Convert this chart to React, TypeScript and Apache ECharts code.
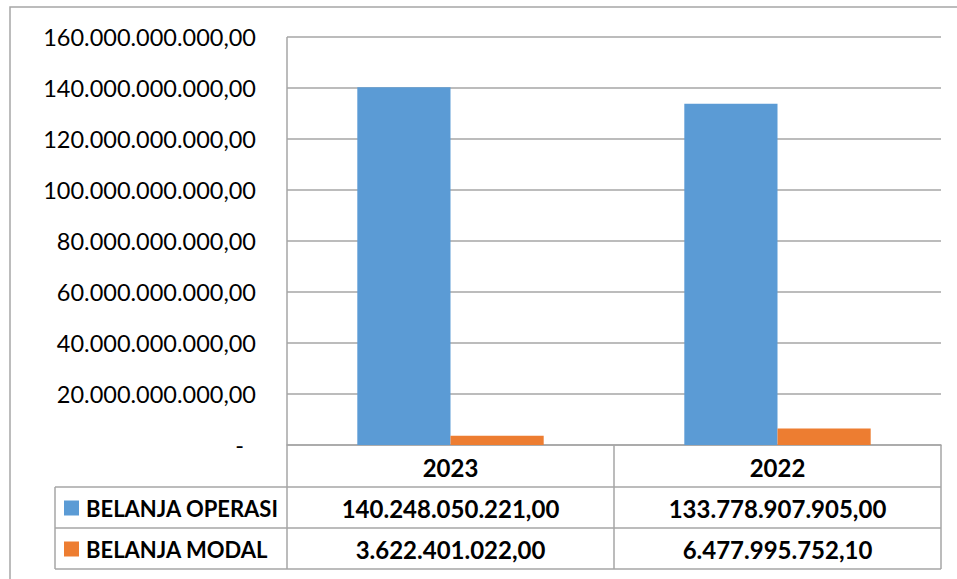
import React, { useEffect, useRef } from "react";
import * as echarts from "echarts";

const categories = ["2023", "2022"];
const seriesNames = ["BELANJA OPERASI", "BELANJA MODAL"];
const belanjaOperasi = [140248050221.0, 133778907905.0];
const belanjaModal = [3622401022.0, 6477995752.1];
const colors = ["#5b9bd5", "#ed7d31"];
const yMax = 160000000000;
const yInterval = 20000000000;

function fmt(v: number): string {
  const [i, d] = v.toFixed(2).split(".");
  return i.replace(/\B(?=(\d{3})+(?!\d))/g, ".") + "," + d;
}

const FONT = "Lato, 'Open Sans', sans-serif";
const GRID_L = 287;
const GRID_R = 941;
const GRID_T = 37;
const GRID_B = 445;
const ROW1 = 487;
const ROW2 = 528;
const ROW3 = 569;
const TABLE_L = 55;
const COL_SEP = 614;
const LINE = "#a6a6a6";

export default function App() {
  const ref = useRef<HTMLDivElement>(null);
  useEffect(() => {
    if (!ref.current) return;
    const chart = echarts.init(ref.current, undefined, { renderer: "svg" });
    const rows = [belanjaOperasi, belanjaModal];
    const colCenters = [(GRID_L + COL_SEP) / 2, (COL_SEP + GRID_R) / 2];
    const rowCenters = [(ROW1 + ROW2) / 2, (ROW2 + ROW3) / 2];
    const graphic: any[] = [
      { type: "rect", shape: { x: 10, y: 7, width: 1000, height: 700 }, style: { fill: "none", stroke: LINE, lineWidth: 1.5 }, silent: true },
      { type: "line", shape: { x1: GRID_L, y1: GRID_T, x2: GRID_L, y2: ROW3 }, style: { stroke: LINE, lineWidth: 1.5 } },
      { type: "line", shape: { x1: TABLE_L, y1: ROW1, x2: TABLE_L, y2: ROW3 }, style: { stroke: LINE, lineWidth: 1.5 } },
      { type: "line", shape: { x1: COL_SEP, y1: GRID_B, x2: COL_SEP, y2: ROW3 }, style: { stroke: LINE, lineWidth: 1.5 } },
      { type: "line", shape: { x1: GRID_R, y1: GRID_B, x2: GRID_R, y2: ROW3 }, style: { stroke: LINE, lineWidth: 1.5 } },
      { type: "line", shape: { x1: TABLE_L, y1: ROW1, x2: GRID_R, y2: ROW1 }, style: { stroke: LINE, lineWidth: 1.5 } },
      { type: "line", shape: { x1: TABLE_L, y1: ROW2, x2: GRID_R, y2: ROW2 }, style: { stroke: LINE, lineWidth: 1.5 } },
      { type: "line", shape: { x1: TABLE_L, y1: ROW3, x2: GRID_R, y2: ROW3 }, style: { stroke: LINE, lineWidth: 1.5 } },
    ];
    seriesNames.forEach((name, r) => {
      graphic.push({
        type: "rect",
        shape: { x: 64, y: rowCenters[r] - 7, width: 15, height: 15 },
        style: { fill: colors[r] },
      });
      graphic.push({
        type: "text",
        x: 86,
        y: rowCenters[r] + 1,
        style: { text: name, font: `bold 22px ${FONT}`, fill: "#000", textVerticalAlign: "middle", textAlign: "left" },
      });
      rows[r].forEach((v, c) => {
        graphic.push({
          type: "text",
          x: colCenters[c],
          y: rowCenters[r] + 1,
          style: { text: fmt(v), font: `bold 24px ${FONT}`, fill: "#000", textVerticalAlign: "middle", textAlign: "center" },
        });
      });
    });

    chart.setOption({
      animation: false,
      backgroundColor: "#fff",
      grid: { left: GRID_L, right: 957 - GRID_R, top: GRID_T, bottom: 579 - GRID_B, containLabel: false },
      xAxis: {
        type: "category",
        data: categories,
        axisLine: { show: true, lineStyle: { color: LINE, width: 1.5 } },
        axisTick: { show: false },
        axisLabel: { color: "#000", fontFamily: FONT, fontWeight: "bold", fontSize: 24, margin: 10 },
      },
      yAxis: {
        type: "value",
        min: 0,
        max: yMax,
        interval: yInterval,
        axisLine: { show: false },
        axisTick: { show: false },
        splitLine: { lineStyle: { color: LINE, width: 1.5 } },
        axisLabel: {
          color: "#000",
          fontFamily: FONT,
          fontSize: 23.5,
          margin: 31,
          formatter: (v: number) => (v === 0 ? "{d|-}" : fmt(v)),
          rich: { d: { fontFamily: FONT, fontSize: 23.5, color: "#000", padding: [0, 12, 0, 0] } },
        },
      },
      series: [
        { name: seriesNames[0], type: "bar", data: belanjaOperasi, itemStyle: { color: colors[0] }, barGap: "0%", barCategoryGap: "43%" },
        { name: seriesNames[1], type: "bar", data: belanjaModal, itemStyle: { color: colors[1] }, barGap: "0%", barCategoryGap: "43%" },
      ],
      graphic,
    });
    return () => chart.dispose();
  }, []);
  return <div ref={ref} style={{ position: "fixed", left: 0, top: 0, width: 957, height: 579, background: "#fff" }} />;
}
